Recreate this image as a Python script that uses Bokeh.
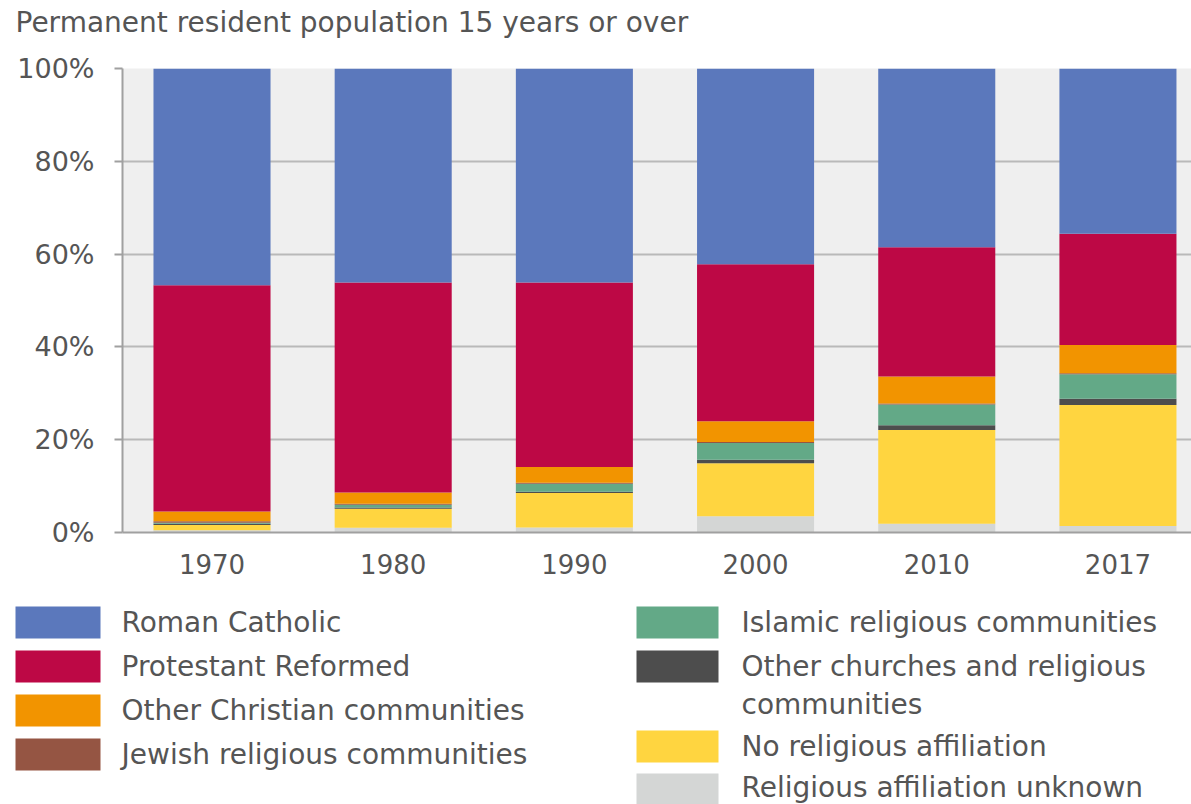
from bokeh.plotting import figure
from bokeh.models import Range1d, ColumnDataSource, FixedTicker
from bokeh.embed import file_html
from bokeh.resources import INLINE
from bokeh.core.properties import value

years = ["1970", "1980", "1990", "2000", "2010", "2017"]
series = [
    "Religious affiliation unknown",
    "No religious affiliation",
    "Other churches and religious communities",
    "Islamic religious communities",
    "Jewish religious communities",
    "Other Christian communities",
    "Protestant Reformed",
    "Roman Catholic",
]
unknown = [0.5, 1.0, 1.1, 3.5, 1.9, 1.4]
no_affil = [1.1, 4.1, 7.4, 11.4, 20.2, 26.1]
other_churches = [0.3, 0.3, 0.3, 0.8, 1.0, 1.3]
islamic = [0.2, 0.6, 1.7, 3.6, 4.5, 5.3]
jewish = [0.3, 0.2, 0.2, 0.2, 0.2, 0.2]
other_christian = [2.1, 2.4, 3.4, 4.5, 5.8, 6.1]
protestant = [48.8, 45.3, 39.8, 33.8, 27.9, 24.0]
catholic = [46.7, 46.1, 46.1, 42.2, 38.5, 35.6]
values = [unknown, no_affil, other_churches, islamic, jewish, other_christian, protestant, catholic]
colors = ["#d4d6d5", "#ffd540", "#4d4d4d", "#63a987", "#955543", "#f29400", "#bd0845", "#5b78bc"]

title_text = ["Permanent resident population 15 years or over"]
legend_left = ["Roman Catholic", "Protestant Reformed", "Other Christian communities", "Jewish religious communities"]
legend_left_colors = ["#5b78bc", "#bd0845", "#f29400", "#955543"]
legend_right = ["Islamic religious communities", "Other churches and religious\ncommunities",
                "No religious affiliation", "Religious affiliation unknown"]
legend_right_colors = ["#63a987", "#4d4d4d", "#ffd540", "#d4d6d5"]

FONT = "DejaVu Sans"
TXT = "#555555"
W = 1191


def blank(h):
    f = figure(width=W, height=h, output_backend="svg", toolbar_location=None,
               x_range=Range1d(0, W), y_range=Range1d(h, 0),
               min_border=0, outline_line_color=None)
    f.axis.visible = False
    f.grid.visible = False
    return f


# title panel
TH = 44
tp = blank(TH)
tp.text(x=[15], y=[22], text=title_text, text_font=value(FONT), text_font_size="28px",
        text_color=TXT, text_baseline="middle", text_align="left")

# main chart
p = figure(width=W, height=592 - TH, output_backend="svg", toolbar_location=None,
           x_range=Range1d(-0.494, 5.406), y_range=Range1d(0, 100),
           min_border_left=122, min_border_right=0, min_border_top=68 - TH, min_border_bottom=60)
p.outline_line_color = None
p.background_fill_color = "#efefef"
p.border_fill_color = "white"

xs = list(range(len(years)))
bottom = [0.0] * len(years)
for name, vals, col in zip(series, values, colors):
    top = [b + v for b, v in zip(bottom, vals)]
    src = ColumnDataSource(dict(x=xs, bottom=bottom, top=top))
    p.vbar(x="x", bottom="bottom", top="top", width=0.646, source=src,
           fill_color=col, line_color=None)
    bottom = top

p.xgrid.visible = False
p.ygrid.ticker = FixedTicker(ticks=[20, 40, 60, 80, 100])
p.ygrid.grid_line_color = "#b9b9b9"
p.ygrid.grid_line_width = 2

p.yaxis.ticker = FixedTicker(ticks=[0, 20, 40, 60, 80, 100])
p.yaxis.major_label_overrides = {t: f"{t}%" for t in [0, 20, 40, 60, 80, 100]}
p.yaxis.axis_line_color = "#a0a0a0"
p.yaxis.axis_line_width = 2
p.yaxis.major_tick_line_color = "#a0a0a0"
p.yaxis.major_tick_line_width = 2
p.yaxis.major_tick_out = 8
p.yaxis.major_tick_in = 0
p.yaxis.minor_tick_line_color = None
p.yaxis.major_label_standoff = 20
p.yaxis.major_label_text_font = FONT
p.yaxis.major_label_text_font_size = "27px"
p.yaxis.major_label_text_color = TXT

p.xaxis.ticker = FixedTicker(ticks=xs)
p.xaxis.major_label_overrides = {i: y for i, y in enumerate(years)}
p.xaxis.axis_line_color = "#a0a0a0"
p.xaxis.axis_line_width = 2
p.xaxis.major_tick_line_color = None
p.xaxis.minor_tick_line_color = None
p.xaxis.major_label_standoff = 15
p.xaxis.major_label_text_font = FONT
p.xaxis.major_label_text_font_size = "26px"
p.xaxis.major_label_text_color = TXT

# legend panel
LH = 212
lg = blank(LH)
rows_left = [30, 74, 118, 162]
lg.rect(x=[57.5] * 4, y=rows_left, width=85, height=32, fill_color=legend_left_colors, line_color=None)
lg.text(x=[121] * 4, y=rows_left, text=legend_left, text_font=value(FONT), text_font_size="28px",
        text_color=TXT, text_baseline="middle", text_align="left")

rows_right_box = [30, 74, 154, 197]
rows_right_txt = [30, 93, 154, 195]
lg.rect(x=[677] * 4, y=rows_right_box, width=82, height=32, fill_color=legend_right_colors, line_color=None)
lg.text(x=[741] * 4, y=rows_right_txt, text=legend_right, text_font=value(FONT), text_font_size="28px",
        text_color=TXT, text_baseline="middle", text_align="left", text_line_height=1.15)

open("out.html", "w").write(file_html([tp, p, lg], INLINE))
